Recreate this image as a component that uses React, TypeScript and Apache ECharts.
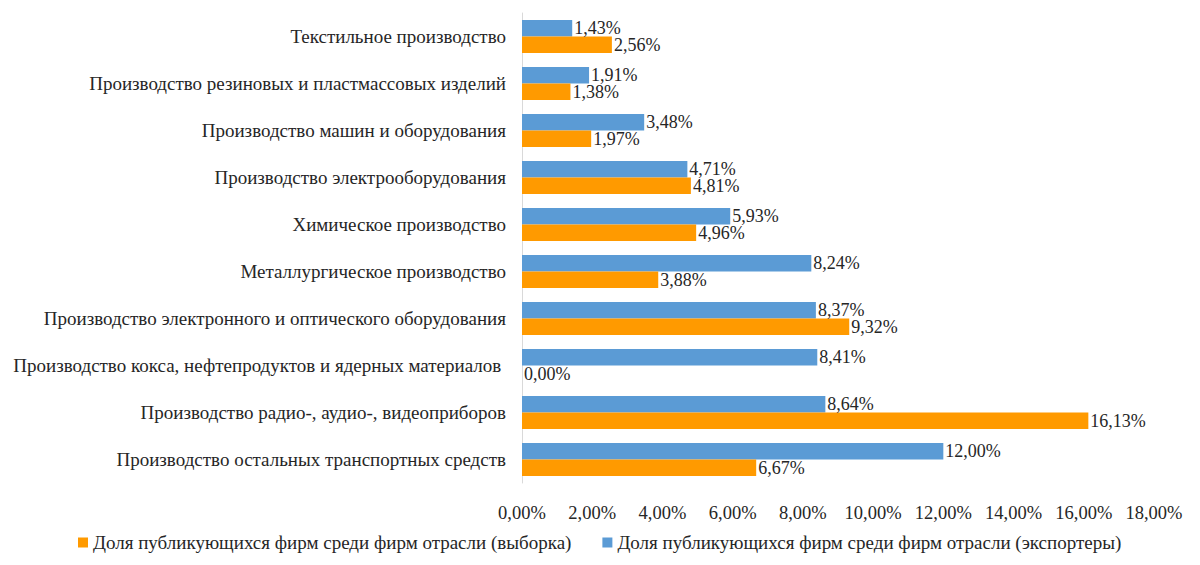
import React, { useEffect, useRef } from "react";
import * as echarts from "echarts";

const categories = [
  "Текстильное производство",
  "Производство резиновых и пластмассовых изделий",
  "Производство машин и оборудования",
  "Производство электрооборудования",
  "Химическое производство",
  "Металлургическое производство",
  "Производство электронного и оптического оборудования",
  "Производство кокса, нефтепродуктов и ядерных материалов ",
  "Производство радио-, аудио-, видеоприборов",
  "Производство остальных транспортных средств",
];
const exportersName = "Доля публикующихся фирм среди фирм отрасли (экспортеры)";
const sampleName = "Доля публикующихся фирм среди фирм отрасли (выборка)";
const exportersValues = [1.43, 1.91, 3.48, 4.71, 5.93, 8.24, 8.37, 8.41, 8.64, 12.0];
const sampleValues = [2.56, 1.38, 1.97, 4.81, 4.96, 3.88, 9.32, 0.0, 16.13, 6.67];
const xTicks = { min: 0, max: 18, interval: 2 };

const fmt = (v: number) => v.toFixed(2).replace(".", ",") + "%";
const FONT = "Liberation Serif";
const TEXT = "#262626";

export default function App() {
  const ref = useRef<HTMLDivElement>(null);
  useEffect(() => {
    const chart = echarts.init(ref.current!, undefined, { renderer: "svg" });
    const label = {
      show: true,
      position: "right" as const,
      distance: 2,
      color: TEXT,
      fontFamily: FONT,
      fontSize: 18,
      lineHeight: 15,
      formatter: (p: any) => fmt(p.value),
    };
    chart.setOption({
      animation: false,
      textStyle: { fontFamily: FONT },
      grid: { left: 522, right: 46, top: 13, bottom: 82, containLabel: false },
      legend: {
        bottom: 8,
        left: 73,
        data: [sampleName, exportersName],
        icon: "rect",
        itemWidth: 10,
        itemHeight: 10,
        itemGap: 31,
        textStyle: { color: TEXT, fontFamily: FONT, fontSize: 19 },
      },
      xAxis: {
        type: "value",
        min: xTicks.min,
        max: xTicks.max,
        interval: xTicks.interval,
        axisLine: { show: false },
        axisTick: { show: false },
        splitLine: { show: false },
        axisLabel: {
          color: TEXT,
          fontFamily: FONT,
          fontSize: 18.5,
          margin: 20,
          formatter: (v: number) => fmt(v),
        },
      },
      yAxis: {
        type: "category",
        data: categories,
        inverse: true,
        axisLine: { show: true, lineStyle: { color: "#D9D9D9", width: 1 } },
        axisTick: { show: false },
        axisLabel: { color: TEXT, fontFamily: FONT, fontSize: 19, margin: 16 },
      },
      series: [
        {
          name: exportersName,
          type: "bar",
          data: exportersValues,
          barGap: "0%",
          barCategoryGap: "30%",
          itemStyle: { color: "#5B9BD5" },
          label,
        },
        {
          name: sampleName,
          type: "bar",
          data: sampleValues,
          barGap: "0%",
          barCategoryGap: "30%",
          itemStyle: { color: "#FF9A00" },
          label,
        },
      ],
    });
    return () => chart.dispose();
  }, []);
  return (
    <div
      ref={ref}
      style={{ position: "fixed", left: 0, top: 0, width: 1200, height: 565, background: "#fff" }}
    />
  );
}
